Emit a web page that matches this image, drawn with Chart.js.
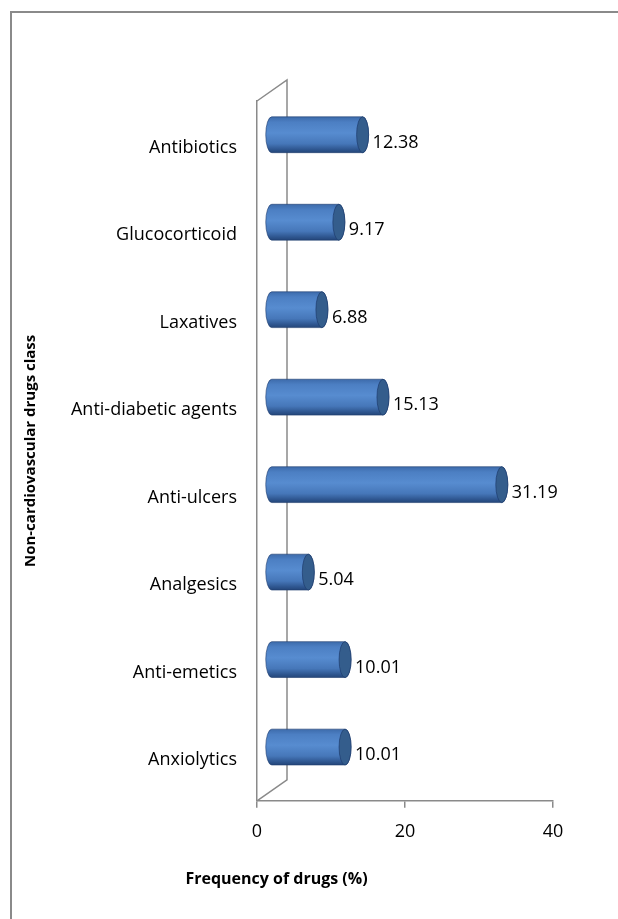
<!DOCTYPE html>
<html lang="en">
<head>
   <meta charset="UTF-8" />
   <title>Non-cardiovascular drugs</title>
   <style>
      body {
         margin: 0;
         padding: 0;
         background-color: #ffffff;
      }
      #wrap {
         position: relative;
         width: 618px;
         height: 919px;
      }
   </style>
   <script src="https://cdn.jsdelivr.net/npm/chart.js@4/dist/chart.umd.min.js"></script>
</head>
<body>
   <div id="wrap">
      <canvas id="barChart" width="618" height="919"></canvas>
   </div>

   <script>
      const drugClasses = ['Antibiotics', 'Glucocorticoid', 'Laxatives', 'Anti-diabetic agents',
         'Anti-ulcers', 'Analgesics', 'Anti-emetics', 'Anxiolytics'];
      const drugFrequency = [12.38, 9.17, 6.88, 15.13, 31.19, 5.04, 10.01, 10.01];
      const xTicks = [0, 20, 40];

      const FONT = "'Open Sans', Lato, sans-serif";
      const LINE = '#8a8a8a';
      const DX = 14, DY = -10;       // cylinder offset into the depth
      const WALL_X = 30, WALL_Y = -21; // back wall offset

      // outer frame + back wall
      const framePlugin = {
         id: 'frame',
         beforeDraw(chart) {
            const ctx = chart.ctx;
            const a = chart.chartArea;
            ctx.save();
            ctx.strokeStyle = LINE;
            ctx.lineWidth = 2;
            ctx.beginPath();
            ctx.moveTo(11, chart.height);
            ctx.lineTo(11, 12);
            ctx.lineTo(chart.width, 12);
            ctx.stroke();

            ctx.lineWidth = 1.5;
            ctx.beginPath();
            ctx.moveTo(a.left, a.top);
            ctx.lineTo(a.left + WALL_X, a.top + WALL_Y);
            ctx.lineTo(a.left + WALL_X, a.bottom + WALL_Y);
            ctx.lineTo(a.left, a.bottom);
            ctx.stroke();
            ctx.restore();
         }
      };

      // cylinders drawn from the bar elements
      const cylinderPlugin = {
         id: 'cylinders',
         afterDatasetsDraw(chart) {
            const ctx = chart.ctx;
            const meta = chart.getDatasetMeta(0);
            ctx.save();
            meta.data.forEach((bar, i) => {
               const h = bar.height;
               const x0 = bar.base + DX;
               const x1 = bar.x + DX;
               const yc = bar.y + DY;
               const top = yc - h / 2;
               const bot = yc + h / 2;
               const rx = 6, ry = h / 2;

               const grad = ctx.createLinearGradient(0, top, 0, bot);
               grad.addColorStop(0, '#3d6bab');
               grad.addColorStop(0.15, '#4c7fc3');
               grad.addColorStop(0.45, '#578cd0');
               grad.addColorStop(0.75, '#4677b9');
               grad.addColorStop(0.92, '#2d548d');
               grad.addColorStop(1, '#244679');

               ctx.beginPath();
               ctx.moveTo(x0, top);
               ctx.lineTo(x1, top);
               ctx.ellipse(x1, yc, rx, ry, 0, -Math.PI / 2, Math.PI / 2, false);
               ctx.lineTo(x0, bot);
               ctx.ellipse(x0, yc, rx, ry, 0, Math.PI / 2, Math.PI * 1.5, false);
               ctx.closePath();
               ctx.fillStyle = grad;
               ctx.fill();
               ctx.strokeStyle = 'rgba(30, 60, 110, 0.6)';
               ctx.lineWidth = 1;
               ctx.stroke();

               ctx.beginPath();
               ctx.ellipse(x1, yc, rx, ry, 0, 0, Math.PI * 2);
               ctx.fillStyle = '#345d8c';
               ctx.fill();
               ctx.strokeStyle = 'rgba(30, 60, 110, 0.7)';
               ctx.stroke();

               ctx.fillStyle = '#000000';
               ctx.font = '18px ' + FONT;
               ctx.textAlign = 'left';
               ctx.textBaseline = 'middle';
               ctx.fillText(drugFrequency[i].toFixed(2), x1 + rx + 4, bar.y - 2);
            });
            ctx.restore();
         }
      };

      new Chart(document.getElementById('barChart'), {
         type: 'bar',
         data: {
            labels: drugClasses,
            datasets: [{
               label: 'Frequency of drugs (%)',
               data: drugFrequency,
               backgroundColor: 'rgba(0,0,0,0)',
               borderWidth: 0,
               barPercentage: 0.41,
               categoryPercentage: 1
            }]
         },
         options: {
            indexAxis: 'y',
            responsive: false,
            animation: false,
            layout: { padding: { top: 101, right: 65, left: 0, bottom: 0 } },
            plugins: {
               legend: { display: false },
               tooltip: { enabled: false },
               title: {
                  display: true,
                  position: 'bottom',
                  text: 'Frequency of drugs (%)',
                  color: '#000000',
                  font: { family: FONT, size: 16, weight: 'bold', lineHeight: 1.2 },
                  padding: { top: 0, bottom: 30 }
               }
            },
            scales: {
               x: {
                  min: 0,
                  max: 40,
                  afterBuildTicks(scale) {
                     scale.ticks = xTicks.map(v => ({ value: v }));
                  },
                  afterFit(scale) { scale.height = 69; },
                  grid: { drawOnChartArea: false, drawTicks: true, tickLength: 7, color: LINE, lineWidth: 1.5 },
                  border: { display: true, color: LINE, width: 1.5 },
                  ticks: { color: '#000000', padding: 13, font: { family: FONT, size: 18 } }
               },
               y: {
                  afterFit(scale) { scale.width = 257; },
                  grid: { display: false },
                  border: { display: true, color: LINE, width: 1.5 },
                  ticks: { color: '#000000', padding: 12, labelOffset: 3, font: { family: FONT, size: 18 } },
                  title: {
                     display: true,
                     text: 'Non-cardiovascular drugs class',
                     color: '#000000',
                     font: { family: FONT, size: 15, weight: 'bold' },
                     padding: { top: 22, bottom: 0 }
                  }
               }
            }
         },
         plugins: [framePlugin, cylinderPlugin]
      });
   </script>
</body>
</html>
